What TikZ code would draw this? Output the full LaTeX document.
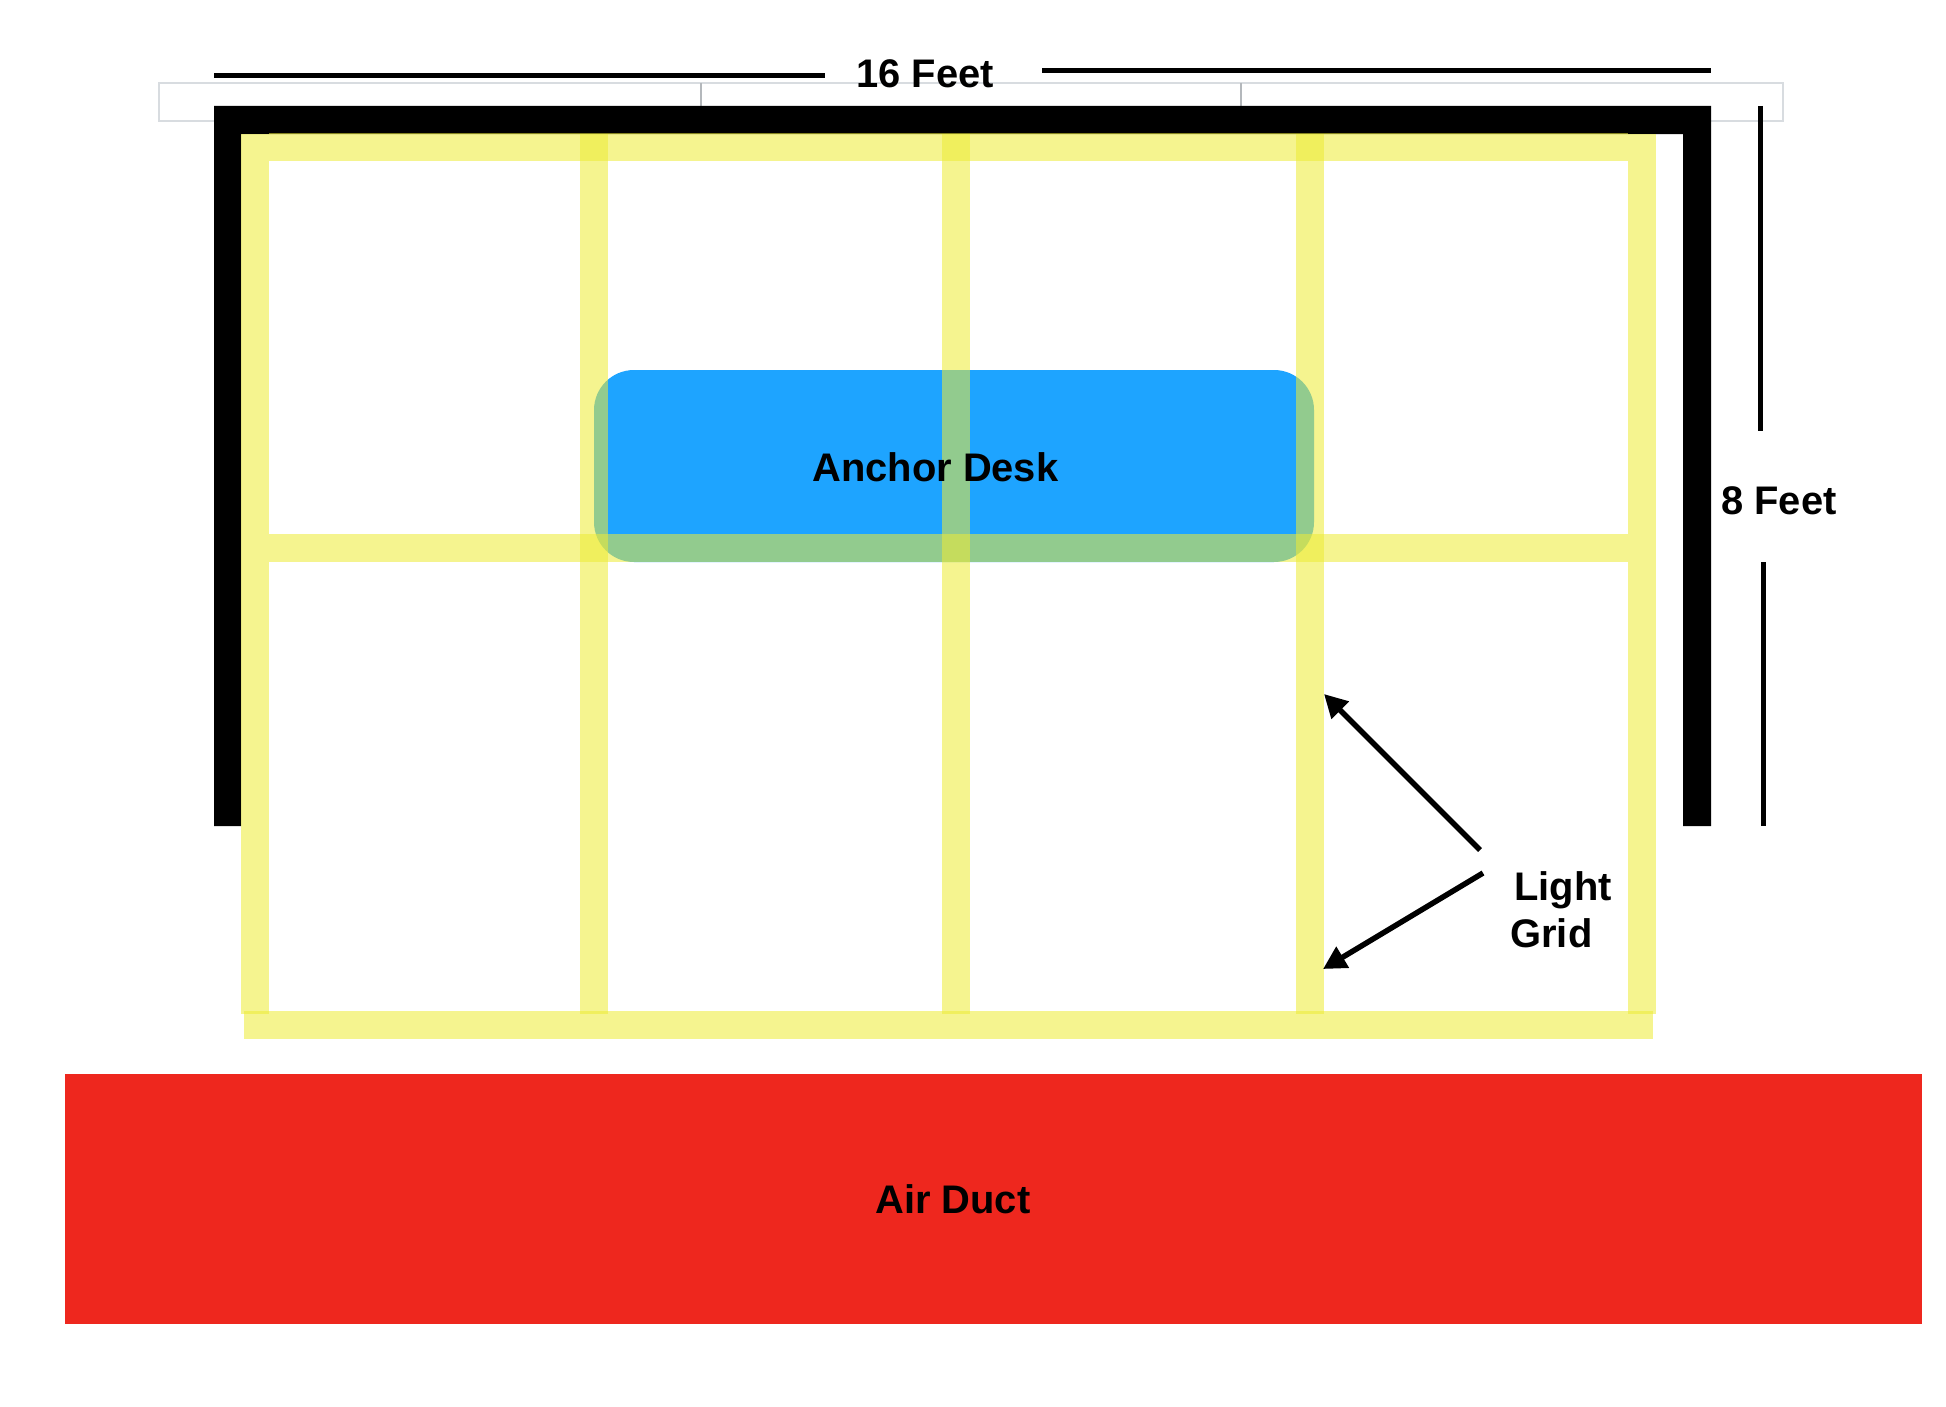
\documentclass[tikz,border=0pt]{standalone}
\usepackage{fontspec}
\setmainfont{Liberation Sans}
\usepackage{tikz}
\usetikzlibrary{positioning,calc}
\usetikzlibrary{arrows.meta}
\definecolor{gridyellow}{RGB}{237,235,55}
\definecolor{deskblue}{RGB}{30,164,255}
\definecolor{ductred}{RGB}{238,39,30}
\definecolor{boxgrey}{RGB}{216,220,224}
\definecolor{tickgrey}{RGB}{180,184,188}
\tikzstyle{lightbar} = [fill=gridyellow, fill opacity=0.56]
\tikzstyle{dimline} = [line width=0.1cm]
\tikzstyle{arrow} = [line width=0.11cm,-{Triangle[length=0.46cm,width=0.47cm]}]
\tikzstyle{label} = [anchor=base west, inner sep=0pt, font=\fontsize{22.7}{27}\selectfont\bfseries]

\begin{document}
\begin{tikzpicture}[x=0.02cm,y=-0.02cm]
	\useasboundingbox (0,0) rectangle (1946,1406);
	% grey box behind the top wall
	\draw[boxgrey, line width=0.04cm] (159,83) rectangle (1783,121);
	\draw[tickgrey, line width=0.04cm] (701,83) -- (701,106);
	\draw[tickgrey, line width=0.04cm] (1241,83) -- (1241,106);
	% wall
	\fill[black] (214,826) -- (214,106) -- (1711,106) -- (1711,826) -- (1683,826) -- (1683,134) -- (241,134) -- (241,826) -- cycle;
	% duct and desk
	\fill[ductred] (65,1074) rectangle (1922,1324);
	\fill[deskblue, rounded corners=0.8cm] (594,370) rectangle (1314,562);
	% light grid
	\fill[lightbar] (269,133) rectangle (1628,161);
	\fill[lightbar] (269,534) rectangle (1628,562);
	\fill[lightbar] (244,1011) rectangle (1653,1039);
	\fill[lightbar] (241,134) rectangle (269,1014);
	\fill[lightbar] (580,134) rectangle (608,1014);
	\fill[lightbar] (942,134) rectangle (970,1014);
	\fill[lightbar] (1296,134) rectangle (1324,1014);
	\fill[lightbar] (1628,134) rectangle (1656,1014);
	% dimension lines
	\coordinate (topa) at (214,75.3);
	\coordinate (topb) at (825,75.3);
	\coordinate (topc) at (1042,70.5);
	\coordinate (topd) at (1711,70.5);
	\coordinate (sidea) at (1760.5,106);
	\coordinate (sideb) at (1760.5,431);
	\coordinate (sidec) at (1763.5,562);
	\coordinate (sided) at (1763.5,826);
	\draw[dimline] (topa) -- (topb);
	\draw[dimline] (topc) -- (topd);
	\draw[dimline] (sidea) -- (sideb);
	\draw[dimline] (sidec) -- (sided);
	% arrows
	\coordinate (upstart) at (1480,850);
	\coordinate (uptip) at (1324,694);
	\coordinate (downstart) at (1483,873);
	\coordinate (downtip) at (1323,969);
	\draw[arrow] (upstart) -- (uptip);
	\draw[arrow] (downstart) -- (downtip);
	% texts
	\node (widthlabel) at (856,88) [label] {16 Feet};
	\node (heightlabel) at (1721,514) [label] {8 Feet};
	\node (desk) at (812,481) [label] {Anchor Desk};
	\node (duct) at (875,1213) [label] {Air Duct};
	\node (light) at (1514,900) [label] {Light};
	\node (grid) at (1510,947) [label] {Grid};
\end{tikzpicture}
\end{document}
